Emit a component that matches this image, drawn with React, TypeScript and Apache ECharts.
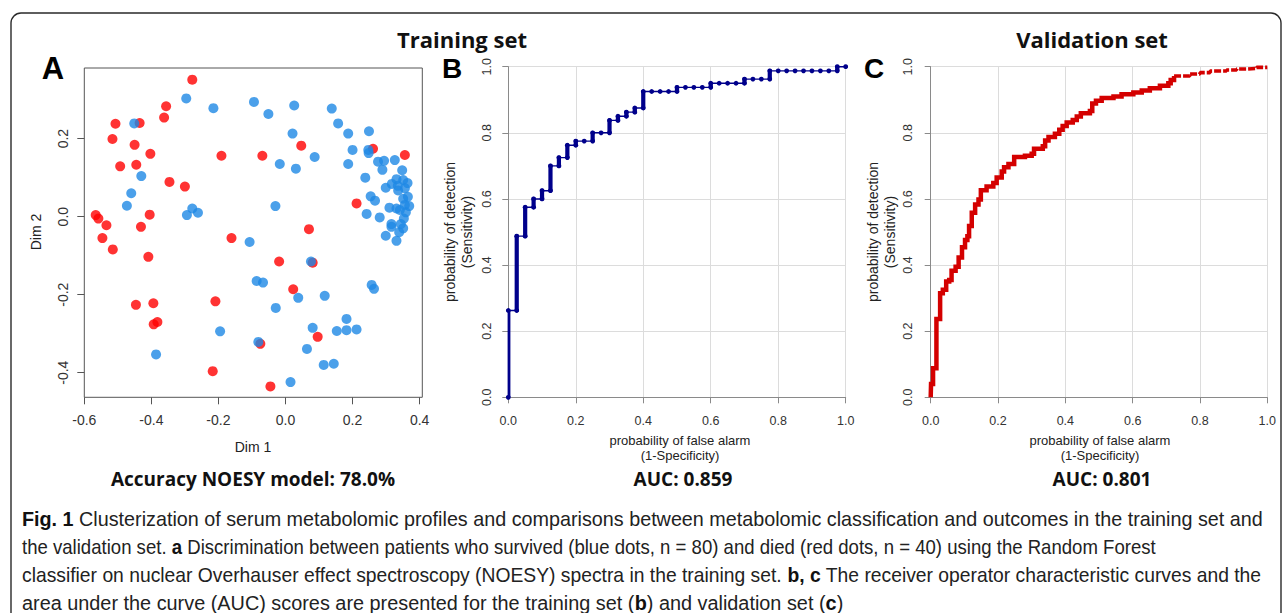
import React, { useEffect, useRef } from 'react';
import * as echarts from 'echarts';

// ---------- Panel A: MDS scatter ----------
const survivedDim1 = [-0.296,-0.215,-0.094,-0.451,-0.430,-0.460,-0.473,-0.294,-0.278,-0.261,
  -0.107,-0.051,0.026,0.138,0.157,0.187,0.249,0.021,0.200,0.247,
  0.248,-0.017,0.031,0.087,0.187,0.276,0.294,0.326,0.289,0.348,
  0.238,0.331,0.351,0.364,0.299,0.336,0.356,-0.030,0.254,0.267,
  0.310,0.331,0.351,0.356,0.369,0.359,0.242,0.281,0.353,0.316,
  0.316,0.351,0.339,0.299,0.331,-0.086,-0.195,-0.386,-0.081,0.076,
  -0.067,0.257,0.264,0.038,0.117,-0.029,0.182,0.081,0.153,0.182,
  0.212,0.064,0.114,0.144,0.015,0.341,0.335,0.317,0.344,0.365];
const survivedDim2 = [0.303,0.278,0.294,0.239,0.104,0.060,0.028,0.004,0.021,0.010,
  -0.065,0.263,0.285,0.277,0.239,0.213,0.219,0.213,0.171,0.171,
  0.163,0.135,0.123,0.153,0.135,0.141,0.143,0.145,0.120,0.119,
  0.100,0.096,0.094,0.086,0.074,0.067,0.073,0.027,0.052,0.041,
  0.023,0.021,0.046,0.030,0.027,0.011,0.007,-0.002,-0.005,-0.019,
  -0.026,-0.030,-0.040,-0.049,-0.062,-0.165,-0.294,-0.353,-0.321,-0.115,
  -0.169,-0.175,-0.185,-0.208,-0.203,-0.234,-0.262,-0.285,-0.293,-0.291,
  -0.289,-0.339,-0.380,-0.377,-0.424,0.017,0.079,0.084,-0.019,0.051];
const diedDim1 = [-0.278,-0.356,-0.362,-0.507,-0.435,-0.516,-0.450,-0.403,-0.191,-0.069,
  -0.493,-0.445,-0.346,-0.300,-0.566,-0.558,-0.534,-0.405,-0.431,-0.546,
  -0.161,0.047,0.261,0.356,0.212,0.070,-0.515,-0.409,-0.446,-0.394,
  -0.209,-0.393,-0.382,-0.217,-0.019,0.081,0.023,0.096,-0.075,-0.045];
const diedDim2 = [0.351,0.283,0.254,0.238,0.240,0.199,0.184,0.161,0.156,0.156,
  0.129,0.133,0.089,0.077,0.004,-0.005,-0.022,0.005,-0.026,-0.055,
  -0.055,0.182,0.174,0.158,0.034,-0.032,-0.084,-0.103,-0.226,-0.222,
  -0.217,-0.276,-0.270,-0.396,-0.115,-0.118,-0.186,-0.308,-0.326,-0.435];

const scatterXTicks = [-0.6, -0.4, -0.2, 0, 0.2, 0.4];
const scatterYTicks = [-0.4, -0.2, 0, 0.2];

// ---------- Panel B: training ROC (column fpr, sensitivity reached in that column) ----------
const trainFpr = [0,0.025,0.05,0.075,0.1,0.125,0.15,0.175,0.2,0.225,0.25,0.275,0.3,0.325,0.35,0.375,
  0.4,0.425,0.45,0.475,0.5,0.525,0.55,0.575,0.6,0.625,0.65,0.675,0.7,0.725,0.75,0.775,
  0.8,0.825,0.85,0.875,0.9,0.925,0.95,0.975,1.0];
const trainTpr = [0.2625,0.4875,0.575,0.6,0.625,0.7,0.725,0.7625,0.775,0.775,0.8,0.8,0.8375,0.85,0.8625,0.875,
  0.925,0.925,0.925,0.925,0.9375,0.9375,0.9375,0.9375,0.95,0.95,0.95,0.95,0.9625,0.9625,0.9625,0.9875,
  0.9875,0.9875,0.9875,0.9875,0.9875,0.9875,0.9875,1.0,1.0];

// ---------- Panel C: validation ROC ----------
const validFpr = [0,0.001,0.007,0.017,0.028,0.036,0.046,0.055,0.062,0.074,
  0.083,0.093,0.102,0.109,0.114,0.122,0.132,0.142,0.149,0.166,
  0.186,0.196,0.211,0.218,0.231,0.248,0.28,0.3,0.307,0.333,
  0.34,0.35,0.369,0.382,0.392,0.404,0.422,0.434,0.446,0.473,
  0.48,0.491,0.508,0.543,0.567,0.602,0.627,0.651,0.681,0.706,
  0.713,0.723,0.77,0.8,0.83,0.879,0.909,0.939,0.968,1.0];
const validTpr = [0,0.04,0.088,0.237,0.315,0.325,0.35,0.355,0.383,0.395,
  0.423,0.454,0.476,0.487,0.518,0.558,0.583,0.598,0.626,0.638,
  0.648,0.665,0.683,0.696,0.706,0.727,0.731,0.737,0.752,0.759,
  0.777,0.787,0.797,0.809,0.821,0.831,0.839,0.849,0.859,0.866,
  0.889,0.897,0.905,0.91,0.917,0.922,0.928,0.935,0.942,0.95,
  0.96,0.972,0.978,0.982,0.987,0.99,0.993,0.995,0.998,1.0];

const rocTicks = [0, 0.2, 0.4, 0.6, 0.8, 1.0];

// ---------- Texts ----------
const titleTraining = 'Training set';
const titleValidation = 'Validation set';
const accuracyLabel = 'Accuracy NOESY model: 78.0%';
const aucTraining = 'AUC: 0.859';
const aucValidation = 'AUC: 0.801';
const captionLines = [
  [{ t: 'Fig. 1', b: true }, { t: ' Clusterization of serum metabolomic profiles and comparisons between metabolomic classification and outcomes in the training set and', b: false }],
  [{ t: 'the validation set. ', b: false }, { t: 'a', b: true }, { t: ' Discrimination between patients who survived (blue dots, n = 80) and died (red dots, n = 40) using the Random Forest', b: false }],
  [{ t: 'classifier on nuclear Overhauser effect spectroscopy (NOESY) spectra in the training set. ', b: false }, { t: 'b, c', b: true }, { t: ' The receiver operator characteristic curves and the', b: false }],
  [{ t: 'area under the curve (AUC) scores are presented for the training set (', b: false }, { t: 'b', b: true }, { t: ') and validation set (', b: false }, { t: 'c', b: true }, { t: ')', b: false }],
];
// right end (px) of each caption line in the reference layout
const captionLineEnds = [1263, 1156, 1262, 843];

const BLUE = '#1e88e5';
const RED = '#ff0000';
const NAVY = '#00008b';
const DARKRED = '#d40000';
const SANS = "'Liberation Sans', Arial, sans-serif";
const OPEN = "'Open Sans', 'Liberation Sans', sans-serif";
const CAP_SIZE = 20;
const CAP_LEFT = 22;

export default function App() {
  const ref = useRef<HTMLDivElement>(null);

  useEffect(() => {
    if (!ref.current) return;
    const chart = echarts.init(ref.current, null, { renderer: 'svg' });

    // ROC B corners and vertical segments
    const trainCorners: number[][] = [];
    const trainVerticals: number[][] = [];
    let prev = 0;
    trainFpr.forEach((x, i) => {
      trainCorners.push([x, prev]);
      if (trainTpr[i] !== prev) {
        trainCorners.push([x, trainTpr[i]]);
        trainVerticals.push([x, prev, trainTpr[i]]);
      }
      prev = trainTpr[i];
    });

    const validPts = validFpr.map((x, i) => [x, validTpr[i]]);
    const tailStart = 51;

    // caption scaling (condensed look)
    const ctx = document.createElement('canvas').getContext('2d')!;
    const measure = (segs: { t: string; b: boolean }[]) => {
      let w = 0;
      segs.forEach((s) => {
        ctx.font = `${s.b ? 'bold ' : ''}${CAP_SIZE}px 'Liberation Sans'`;
        w += ctx.measureText(s.t).width;
      });
      return w;
    };
    const richStyles = {
      b: { fontWeight: 'bold', fontSize: CAP_SIZE, fontFamily: SANS, fill: '#111' },
      n: { fontWeight: 'normal', fontSize: CAP_SIZE, fontFamily: SANS, fill: '#222' },
    };
    const captionGraphics = captionLines.map((segs, i) => ({
      type: 'group',
      x: CAP_LEFT,
      y: 519 + i * 28,
      scaleX: (captionLineEnds[i] - CAP_LEFT) / measure(segs),
      children: [
        {
          type: 'text',
          x: 0,
          y: 0,
          style: {
            text: segs.map((s) => `{${s.b ? 'b' : 'n'}|${s.t}}`).join(''),
            rich: richStyles,
            fontSize: CAP_SIZE,
            fontFamily: SANS,
            fill: '#222',
            verticalAlign: 'middle',
            align: 'left',
          },
        },
      ],
    }));

    const text = (x: number, y: number, t: string, size: number, opts: any = {}) => ({
      type: 'text',
      x,
      y,
      rotation: opts.rotation || 0,
      style: {
        text: t,
        fontSize: size,
        fontFamily: opts.family || SANS,
        fontWeight: opts.weight || 'normal',
        fill: opts.fill || '#222',
        align: 'center',
        verticalAlign: 'middle',
      },
    });

    const fmt = (v: number) => (Math.abs(v) < 1e-9 ? '0.0' : v.toFixed(1));

    const scatterAxisCommon = {
      type: 'value',
      axisLine: { show: false, onZero: false },
      splitLine: { show: false },
      axisTick: { show: true, length: 7, lineStyle: { color: '#555', width: 1 } },
      axisLabel: { fontSize: 14, fontFamily: SANS, color: '#333', formatter: fmt },
    };
    const rocAxisCommon = {
      type: 'value',
      min: 0,
      max: 1,
      interval: 0.1,
      axisLine: { show: true, onZero: false, lineStyle: { color: '#8a8a8a', width: 1 } },
      splitLine: { show: true, lineStyle: { color: '#dcdcdc', width: 1 } },
      axisTick: { show: true, length: 6, customValues: rocTicks, lineStyle: { color: '#8a8a8a', width: 1 } },
      axisLabel: { fontSize: 12.5, fontFamily: SANS, color: '#333', customValues: rocTicks, formatter: fmt },
    };

    const option: any = {
      animation: false,
      backgroundColor: '#ffffff',
      grid: [
        { left: 84.3, top: 68, width: 338, height: 329.3, show: true, borderColor: '#555', borderWidth: 1, backgroundColor: 'transparent', containLabel: false, outerBoundsMode: 'none' },
        { left: 508.3, top: 66.7, width: 337.4, height: 330.6, show: false, containLabel: false, outerBoundsMode: 'none' },
        { left: 930.7, top: 66.7, width: 336.6, height: 330.6, show: false, containLabel: false, outerBoundsMode: 'none' },
      ],
      xAxis: [
        { ...scatterAxisCommon, gridIndex: 0, min: -0.6, max: 0.408, position: 'bottom',
          axisTick: { ...scatterAxisCommon.axisTick, customValues: scatterXTicks },
          axisLabel: { ...scatterAxisCommon.axisLabel, customValues: scatterXTicks, margin: 16 } },
        { ...rocAxisCommon, gridIndex: 1, position: 'bottom', axisLabel: { ...rocAxisCommon.axisLabel, margin: 17 } },
        { ...rocAxisCommon, gridIndex: 2, position: 'bottom', axisLabel: { ...rocAxisCommon.axisLabel, margin: 17 } },
      ],
      yAxis: [
        { ...scatterAxisCommon, gridIndex: 0, min: -0.463, max: 0.381, position: 'left',
          axisTick: { ...scatterAxisCommon.axisTick, customValues: scatterYTicks },
          axisLabel: { ...scatterAxisCommon.axisLabel, customValues: scatterYTicks, rotate: 90, margin: 14 } },
        { ...rocAxisCommon, gridIndex: 1, position: 'left', axisLabel: { ...rocAxisCommon.axisLabel, rotate: 90, margin: 15 } },
        { ...rocAxisCommon, gridIndex: 2, position: 'left', axisLabel: { ...rocAxisCommon.axisLabel, rotate: 90, margin: 16 } },
      ],
      series: [
        {
          type: 'scatter', xAxisIndex: 0, yAxisIndex: 0, symbol: 'circle', symbolSize: 10,
          itemStyle: { color: RED }, data: diedDim1.map((x, i) => [x, diedDim2[i]]), z: 2,
        },
        {
          type: 'scatter', xAxisIndex: 0, yAxisIndex: 0, symbol: 'circle', symbolSize: 10,
          itemStyle: { color: BLUE }, data: survivedDim1.map((x, i) => [x, survivedDim2[i]]), z: 3,
        },
        {
          type: 'line', xAxisIndex: 1, yAxisIndex: 1, data: trainCorners, showAllSymbol: true,
          symbol: 'circle', symbolSize: 4.8, itemStyle: { color: NAVY }, lineStyle: { color: NAVY, width: 1.4 },
          clip: true, z: 4,
        },
        {
          type: 'custom', xAxisIndex: 1, yAxisIndex: 1, data: trainVerticals, clip: true, z: 5,
          encode: { x: 0, y: [1, 2] },
          renderItem: (params: any, api: any) => {
            const p0 = api.coord([api.value(0), api.value(1)]);
            const p1 = api.coord([api.value(0), api.value(2)]);
            return {
              type: 'line',
              shape: { x1: p0[0], y1: p0[1], x2: p1[0], y2: p1[1] },
              style: { stroke: NAVY, lineWidth: 4.2, lineCap: 'round' },
            };
          },
        },
        {
          type: 'line', xAxisIndex: 2, yAxisIndex: 2, data: validPts.slice(0, tailStart + 1), step: 'end',
          symbol: 'none', lineStyle: { color: DARKRED, width: 4.5, join: 'miter' }, clip: true, z: 4,
        },
        {
          type: 'line', xAxisIndex: 2, yAxisIndex: 2, data: validPts.slice(tailStart), step: 'end',
          symbol: 'none', lineStyle: { color: DARKRED, width: 3.6, type: [7, 2] }, clip: true, z: 4,
        },
      ],
      graphic: [
        {
          type: 'rect', silent: true, z: -10,
          shape: { x: 11, y: 13, width: 1270, height: 700, r: 10 },
          style: { fill: 'none', stroke: '#2a2a2a', lineWidth: 1.4 },
        },
        text(462, 39, titleTraining, 22, { family: OPEN, weight: 'bold', fill: '#111' }),
        text(1092, 39, titleValidation, 22, { family: OPEN, weight: 'bold', fill: '#111' }),
        text(53, 68, 'A', 31, { weight: 'bold', fill: '#000' }),
        text(452, 68, 'B', 28, { weight: 'bold', fill: '#000' }),
        text(874, 68, 'C', 28, { weight: 'bold', fill: '#000' }),
        text(253, 447, 'Dim 1', 14),
        text(36, 232, 'Dim 2', 14, { rotation: Math.PI / 2 }),
        text(450, 232, 'probability of detection', 14, { rotation: Math.PI / 2 }),
        text(467, 232, '(Sensitivity)', 14, { rotation: Math.PI / 2 }),
        text(680, 440, 'probability of false alarm', 13),
        text(680, 455, '(1-Specificity)', 13),
        text(872.5, 232, 'probability of detection', 14, { rotation: Math.PI / 2 }),
        text(889.5, 232, '(Sensitivity)', 14, { rotation: Math.PI / 2 }),
        text(1100, 440, 'probability of false alarm', 13),
        text(1100, 455, '(1-Specificity)', 13),
        text(253, 479, accuracyLabel, 19, { family: OPEN, weight: 'bold', fill: '#111' }),
        text(683, 479, aucTraining, 19, { family: OPEN, weight: 'bold', fill: '#111' }),
        text(1102, 479, aucValidation, 19, { family: OPEN, weight: 'bold', fill: '#111' }),
        ...captionGraphics,
      ],
    };

    chart.setOption(option);
    return () => chart.dispose();
  }, []);

  return (
    <div
      ref={ref}
      style={{ position: 'fixed', left: 0, top: 0, width: 1285, height: 613, background: '#fff' }}
    />
  );
}
